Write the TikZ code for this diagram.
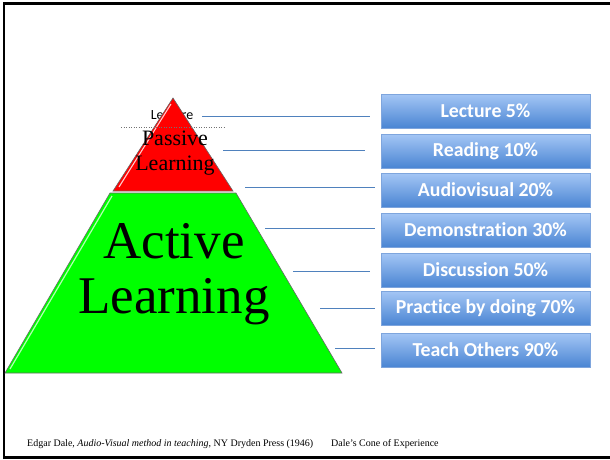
\documentclass[tikz,border=0pt]{standalone}
\usepackage{fontspec}
\setmainfont{Liberation Serif}
\newfontfamily\boxfont[Ligatures={NoCommon,NoRequired,NoContextual}]{Carlito}
\definecolor{boxtop}{HTML}{A4C6F5}
\definecolor{boxbot}{HTML}{4A85D3}
\definecolor{boxedge}{HTML}{7EA5DD}
\definecolor{linkblue}{HTML}{4F81BD}
\definecolor{pgreen}{HTML}{00FF00}
\definecolor{pred}{HTML}{FF0000}
\begin{document}
\begin{tikzpicture}[x=1pt,y=-1pt,
  pctbox/.style={draw=boxedge, line width=0.6pt, top color=boxtop, bottom color=boxbot,
    minimum width=209pt, minimum height=34pt, inner sep=0pt, text=white,
    font=\boxfont\bfseries\fontsize{19.8}{20}\selectfont},
  link/.style={draw=linkblue, line width=0.7pt},
  shapeedge/.style={draw=black!60, line width=0.6pt},
  foot/.style={anchor=base west, font=\fontsize{10}{11}\selectfont, inner sep=0pt}]
\useasboundingbox (0,0) rectangle (610,459);
% frame
\draw[line width=2.2pt] (4,459) -- (4,3.5) -- (610,3.5);
\draw[line width=2.2pt] (4,457.5) -- (610,457.5);

% hidden small label under the cone tip
\node[font=\boxfont\fontsize{14}{15}\selectfont, inner sep=0pt] (lect) at (172,115) {Lecture};

% green trapezoid
\path[fill=pgreen, shapeedge] (110,193) -- (236,193) -- (342,373) -- (5,373) -- cycle;
\draw[white!70!green, line width=1.2pt] (112,196) -- (10,369);
% red triangle
\path[fill=pred, shapeedge] (173,98) -- (233,191) -- (113,191) -- cycle;
\draw[white!80!red, line width=1.1pt] (171,104) -- (119,187);

\draw[black!55, dotted, line width=0.5pt] (121,127) -- (225,127);

\node[align=center, font=\fontsize{22}{25}\selectfont, inner sep=0pt] (passive) at (175,153) {Passive\\Learning};
\node[align=center, font=\fontsize{53}{55}\selectfont, inner sep=0pt] (active) at (174,274) {Active\\Learning};

% boxes
\node[pctbox] (b1) at (485.5,111) {Lecture 5\%};
\node[pctbox] (b2) at (485.5,151) {Reading 10\%};
\node[pctbox] (b3) at (485.5,190) {Audiovisual 20\%};
\node[pctbox] (b4) at (485.5,230) {Demonstration 30\%};
\node[pctbox] (b5) at (485.5,270) {Discussion 50\%};
\node[pctbox] (b6) at (485.5,308) {Practice by doing 70\%};
\node[pctbox] (b7) at (485.5,350) {Teach Others 90\%};

% connector start points
\coordinate (c1) at (202,116);
\coordinate (c2) at (223,150);
\coordinate (c3) at (245,187);
\coordinate (c4) at (265,228);
\coordinate (c5) at (293,271);
\coordinate (c6) at (320,308);
\coordinate (c7) at (335,348);
\draw[link, shorten >=11pt] (c1) -- (c1 -| b1.west);
\draw[link, shorten >=16pt] (c2) -- (c2 -| b2.west);
\draw[link, shorten >=6pt] (c3) -- (c3 -| b3.west);
\draw[link, shorten >=6pt] (c4) -- (c4 -| b4.west);
\draw[link, shorten >=11pt] (c5) -- (c5 -| b5.west);
\draw[link, shorten >=6pt] (c6) -- (c6 -| b6.west);
\draw[link, shorten >=6pt] (c7) -- (c7 -| b7.west);

% footer
\node[foot] (ref) at (27,446)
  {Edgar Dale, \textit{Audio-Visual method in teaching}, NY Dryden Press (1946)};
\node[foot] (cone) at (331,446) {Dale's Cone of Experience};
\end{tikzpicture}
\end{document}
